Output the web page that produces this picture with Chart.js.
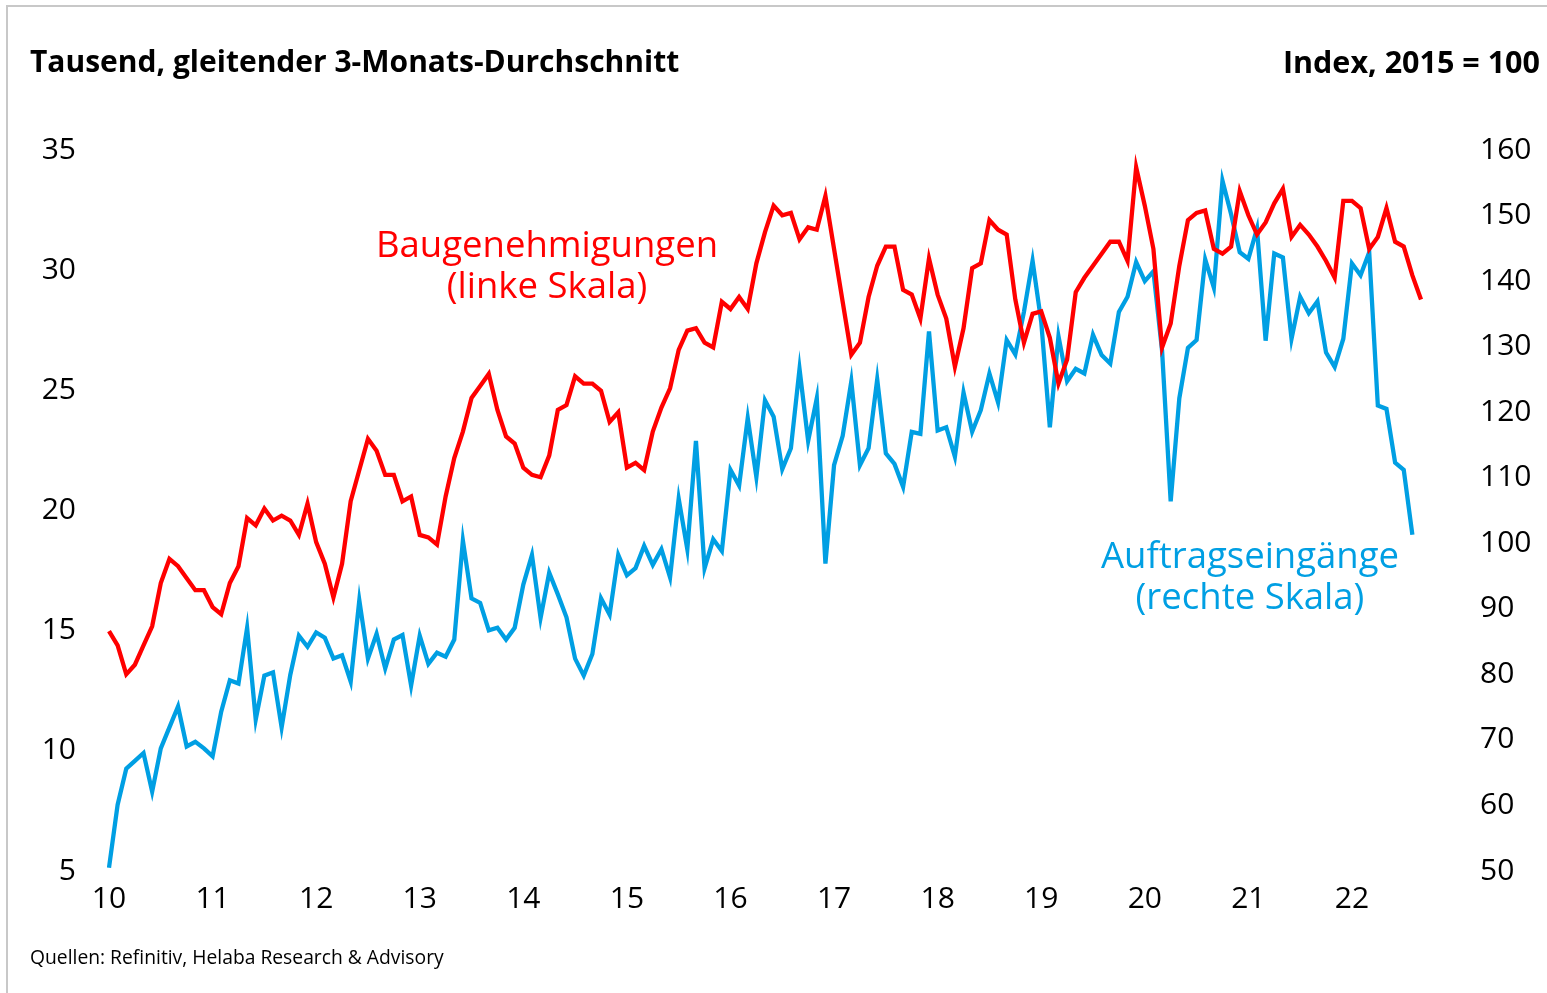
<!DOCTYPE html>
<html>
<head>
<meta charset="utf-8">
<script src="https://cdn.jsdelivr.net/npm/chart.js@4/dist/chart.umd.min.js"></script>
<style>
  html, body { margin: 0; padding: 0; background: #fff; }
  #wrap { position: relative; width: 1547px; height: 993px; overflow: hidden; background: #fff; }
  #frame { position: absolute; left: 6px; top: 5px; width: 1700px; height: 1200px;
           border-top: 2px solid #c8c8c8; border-left: 2px solid #c8c8c8; }
  canvas { position: absolute; left: 0; top: 0; }
  .txt { position: absolute; font-family: 'Open Sans', sans-serif; white-space: nowrap; }
  .ttl { font-weight: 700; font-size: 30px; line-height: 30px; color: #000; top: 46px; }
  .lab { font-size: 36.5px; line-height: 41px; text-align: center; width: 500px; }
  .src { font-size: 19.3px; line-height: 20px; color: #000; left: 30px; top: 947px; }
</style>
</head>
<body>
<div id="wrap">
  <div id="frame"></div>
  <canvas id="c" width="1547" height="993"></canvas>
  <div class="txt ttl" style="left:30px;">Tausend, gleitender 3-Monats-Durchschnitt</div>
  <div class="txt ttl" style="right:7px; font-size:30.5px;">Index, 2015 = 100</div>
  <div class="txt lab" style="left:297px; top:223px; color:#ff0000;">Baugenehmigungen<br>(linke Skala)</div>
  <div class="txt lab" style="left:1000px; top:534px; color:#009fe3;">Auftragseingänge<br>(rechte Skala)</div>
  <div class="txt src">Quellen: Refinitiv, Helaba Research &amp; Advisory</div>
</div>
<script>
// Year tick labels (one per January, 2010 ... 2022)
const yearLabels = ['10','11','12','13','14','15','16','17','18','19','20','21','22'];
const monthsInLastYear = 9; // Jan..Sep 2022

// Baugenehmigungen, Tausend, gleitender 3-Monats-Durchschnitt (linke Skala), Jan 2010 - Sep 2022
const baugenehmigungen = [
  14.9, 14.3, 13.1, 13.5, 14.3, 15.1, 16.9, 17.9, 17.6, 17.1, 16.6, 16.6,
  15.9, 15.6, 16.9, 17.6, 19.6, 19.3, 20.0, 19.5, 19.7, 19.5, 18.9, 20.2,
  18.6, 17.7, 16.3, 17.7, 20.3, 21.6, 22.9, 22.4, 21.4, 21.4, 20.3, 20.5,
  18.9, 18.8, 18.5, 20.5, 22.1, 23.2, 24.6, 25.1, 25.6, 24.1, 23.0, 22.7,
  21.7, 21.4, 21.3, 22.2, 24.1, 24.3, 25.5, 25.2, 25.2, 24.9, 23.6, 24.0,
  21.7, 21.9, 21.6, 23.2, 24.2, 25.0, 26.6, 27.4, 27.5, 26.9, 26.7, 28.6,
  28.3, 28.8, 28.3, 30.2, 31.5, 32.6, 32.2, 32.3, 31.2, 31.7, 31.6, 33.0,
  30.8, 28.6, 26.4, 26.9, 28.8, 30.1, 30.9, 30.9, 29.1, 28.9, 27.9, 30.4,
  28.9, 27.9, 25.9, 27.5, 30.0, 30.2, 32.0, 31.6, 31.4, 28.7, 26.9, 28.1,
  28.2, 27.1, 25.2, 26.2, 29.0, 29.6, 30.1, 30.6, 31.1, 31.1, 30.3, 34.2,
  32.6, 30.8, 26.7, 27.7, 30.1, 32.0, 32.3, 32.4, 30.8, 30.6, 30.9, 33.2,
  32.2, 31.4, 31.9, 32.7, 33.3, 31.3, 31.8, 31.4, 30.9, 30.3, 29.6, 32.8,
  32.8, 32.5, 30.8, 31.3, 32.5, 31.1, 30.9, 29.7, 28.7
];

// Auftragseingänge, Index 2015 = 100 (rechte Skala), Jan 2010 - Aug 2022
const auftragseingaenge = [
  50.2, 59.8, 65.3, 66.5, 67.7, 61.8, 68.4, 71.6, 74.8, 68.7, 69.4, 68.4,
  67.2, 74.0, 78.8, 78.3, 86.8, 72.8, 79.5, 80.0, 71.6, 79.6, 85.6, 83.9,
  86.1, 85.3, 82.1, 82.6, 78.6, 91.0, 82.1, 85.9, 80.6, 85.0, 85.7, 78.0,
  85.6, 81.3, 83.0, 82.4, 85.0, 100.1, 91.3, 90.6, 86.4, 86.8, 85.0, 86.8,
  93.4, 97.9, 88.3, 95.2, 91.9, 88.4, 82.1, 79.5, 82.8, 91.3, 88.8, 97.9,
  94.8, 95.9, 99.3, 96.4, 98.8, 94.5, 106.5, 98.8, 115.3, 95.9, 100.3, 98.5,
  110.9, 108.5, 118.8, 109.8, 121.5, 119.0, 111.0, 114.2, 126.3, 115.3, 121.8, 96.6,
  111.6, 116.1, 124.4, 111.6, 114.2, 124.7, 113.4, 111.8, 108.3, 116.7, 116.4, 132.0,
  116.9, 117.4, 112.9, 122.7, 116.7, 120.0, 125.6, 121.2, 130.7, 128.5, 135.0, 142.8,
  133.5, 117.4, 131.3, 124.4, 126.3, 125.6, 131.5, 128.4, 127.1, 135.0, 137.3, 142.6,
  139.7, 141.2, 129.1, 106.1, 121.8, 129.5, 130.7, 143.0, 138.7, 155.0, 149.9, 144.1,
  143.1, 147.7, 130.6, 143.9, 143.3, 130.9, 137.3, 134.8, 136.6, 128.8, 126.6, 130.9,
  142.4, 140.6, 144.1, 120.7, 120.2, 112.0, 110.9, 101.0
];

// Month categories built from the year labels
const months = [];
yearLabels.forEach((y, yi) => {
  const n = (yi === yearLabels.length - 1) ? monthsInLastYear : 12;
  for (let m = 1; m <= n; m++) months.push(y + '-' + String(m).padStart(2, '0'));
});

Chart.defaults.font.family = "'Open Sans', sans-serif";
Chart.defaults.color = '#000';

new Chart(document.getElementById('c'), {
  type: 'line',
  data: {
    labels: months,
    datasets: [
      {
        label: 'Baugenehmigungen (linke Skala)',
        data: baugenehmigungen,
        yAxisID: 'y',
        borderColor: '#ff0000',
        borderWidth: 4.3,
        pointRadius: 0,
        tension: 0,
        fill: false
      },
      {
        label: 'Auftragseingänge (rechte Skala)',
        data: auftragseingaenge,
        yAxisID: 'y1',
        borderColor: '#009fe3',
        borderWidth: 4.3,
        pointRadius: 0,
        tension: 0,
        fill: false
      }
    ]
  },
  options: {
    responsive: false,
    animation: false,
    events: [],
    layout: { padding: { top: 148, bottom: 64, left: 0, right: 0 } },
    plugins: { legend: { display: false }, tooltip: { enabled: false }, title: { display: false } },
    scales: {
      x: {
        type: 'category',
        offset: false,
        grid: { display: false, drawTicks: false },
        border: { display: false },
        ticks: {
          autoSkip: false,
          maxRotation: 0,
          minRotation: 0,
          padding: 12,
          font: { size: 30 },
          color: '#000',
          callback: (v, i) => (i % 12 === 0 ? yearLabels[i / 12] : '')
        },
        afterFit: s => { s.height = 60; }
      },
      y: {
        position: 'left',
        min: 5,
        max: 35,
        grid: { display: false, drawTicks: false },
        border: { display: false },
        ticks: { stepSize: 5, padding: 33, labelOffset: 2, font: { size: 30 }, color: '#000' },
        afterFit: s => { s.width = 109; }
      },
      y1: {
        position: 'right',
        min: 50,
        max: 160,
        grid: { display: false, drawTicks: false },
        border: { display: false },
        ticks: { stepSize: 10, padding: 59, labelOffset: 2, font: { size: 30 }, color: '#000' },
        afterFit: s => { s.width = 126; }
      }
    }
  }
});
</script>
</body>
</html>
